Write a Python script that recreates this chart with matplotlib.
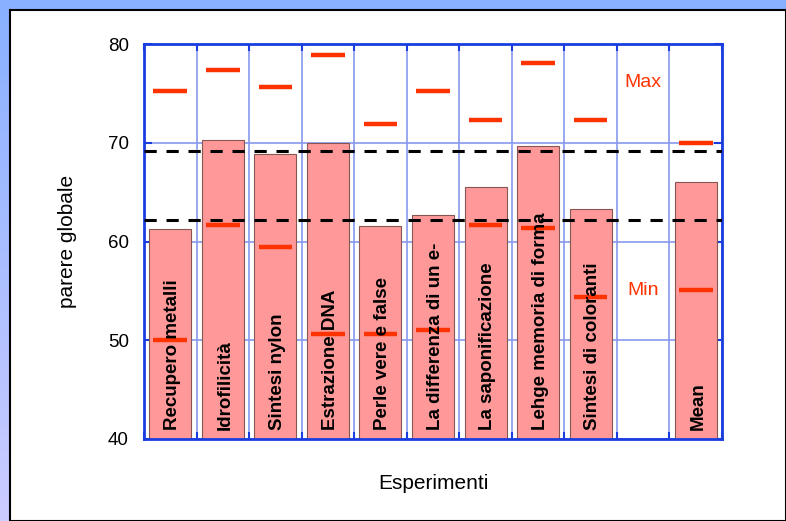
import numpy as np
import matplotlib.pyplot as plt
from matplotlib.patches import Rectangle

plt.rcParams['font.family'] = ['Liberation Sans', 'DejaVu Sans']

# dati
esperimenti = ["Recupero metalli", "Idrofilicità", "Sintesi nylon", "Estrazione DNA",
               "Perle vere e false", "La differenza di un e-", "La saponificazione",
               "Lehge memoria di forma", "Sintesi di coloranti", "", "Mean"]
medie = [61.3, 70.3, 68.9, 70.0, 61.6, 62.7, 65.5, 69.7, 63.3, np.nan, 66.0]
massimi = [75.2, 77.4, 75.6, 78.9, 71.9, 75.2, 72.3, 78.1, 72.3, np.nan, 70.0]
minimi = [50.0, 61.7, 59.4, 50.6, 50.6, 51.0, 61.7, 61.4, 54.4, np.nan, 55.1]
soglie = [69.2, 62.2]

blu = '#1a3de0'
rosso = '#ff3300'

fig = plt.figure(figsize=(7.86, 5.21), dpi=100, facecolor='white')

# cornice di sfondo (striscia in alto e a sinistra)
bg = fig.add_axes([0, 0, 1, 1], zorder=-10)
bg.set_xlim(0, 786)
bg.set_ylim(521, 0)
bg.axis('off')
grad = np.linspace(0, 1, 200).reshape(-1, 1)
c1 = np.array([0x88, 0xb0, 0xff]) / 255
c2 = np.array([0xcc, 0xcc, 0xff]) / 255
img = c1 + (c2 - c1) * grad[:, :, None]
bg.imshow(img, extent=[0, 10, 521, 0], aspect='auto')
bg.add_patch(Rectangle((0, 0), 786, 10, color='#88b0ff'))
bg.add_patch(Rectangle((10, 10), 776, 511, facecolor='white', edgecolor='black', lw=1.5))

ax = fig.add_axes([0.1832, 0.1574, 0.9186 - 0.1832, 0.9155 - 0.1574])
x = np.arange(len(esperimenti))

ax.bar(x, medie, width=0.8, bottom=0, color='#ff9999', edgecolor='#885555', lw=0.8, zorder=2)
ax.hlines(massimi, x - 0.32, x + 0.32, color=rosso, lw=3.2, zorder=4)
ax.hlines(minimi, x - 0.32, x + 0.32, color=rosso, lw=3.2, zorder=4)
for s in soglie:
    ax.axhline(s, color='black', lw=2.2, ls=(0, (4, 3.2)), zorder=3)

for xi, nome in zip(x, esperimenti):
    if nome:
        ax.text(xi + 0.04, 40.9, nome, rotation=90, ha='center', va='bottom', fontsize=13.5,
                fontweight='bold', zorder=5)

ax.text(9, 76.1, "Max", color=rosso, ha='center', va='center', fontsize=14)
ax.text(9, 55.0, "Min", color=rosso, ha='center', va='center', fontsize=14)

ax.set_xlim(-0.5, len(esperimenti) - 0.5)
ax.set_ylim(40, 80)
ax.set_yticks([40, 50, 60, 70, 80])
ax.set_xticks([])
ax.set_xticks(np.arange(-0.5, len(esperimenti)), minor=True)
ax.tick_params(axis='y', which='major', direction='in', length=6, width=1.5, color=blu,
               left=True, right=True, labelsize=13.5, pad=11)
ax.tick_params(axis='x', which='minor', direction='in', length=5, width=1.5, color=blu,
               top=True, bottom=True, labelbottom=False)
ax.grid(True, axis='y', color='#8899ee', lw=1.2, zorder=1)
ax.grid(True, axis='x', which='minor', color='#8899ee', lw=1.2, zorder=1)
for sp in ax.spines.values():
    sp.set_color(blu)
    sp.set_linewidth(2)

ax.set_ylabel("parere globale", fontsize=15, labelpad=22)
ax.set_xlabel("Esperimenti", fontsize=15, labelpad=25)

plt.savefig('out.png', dpi=100)
